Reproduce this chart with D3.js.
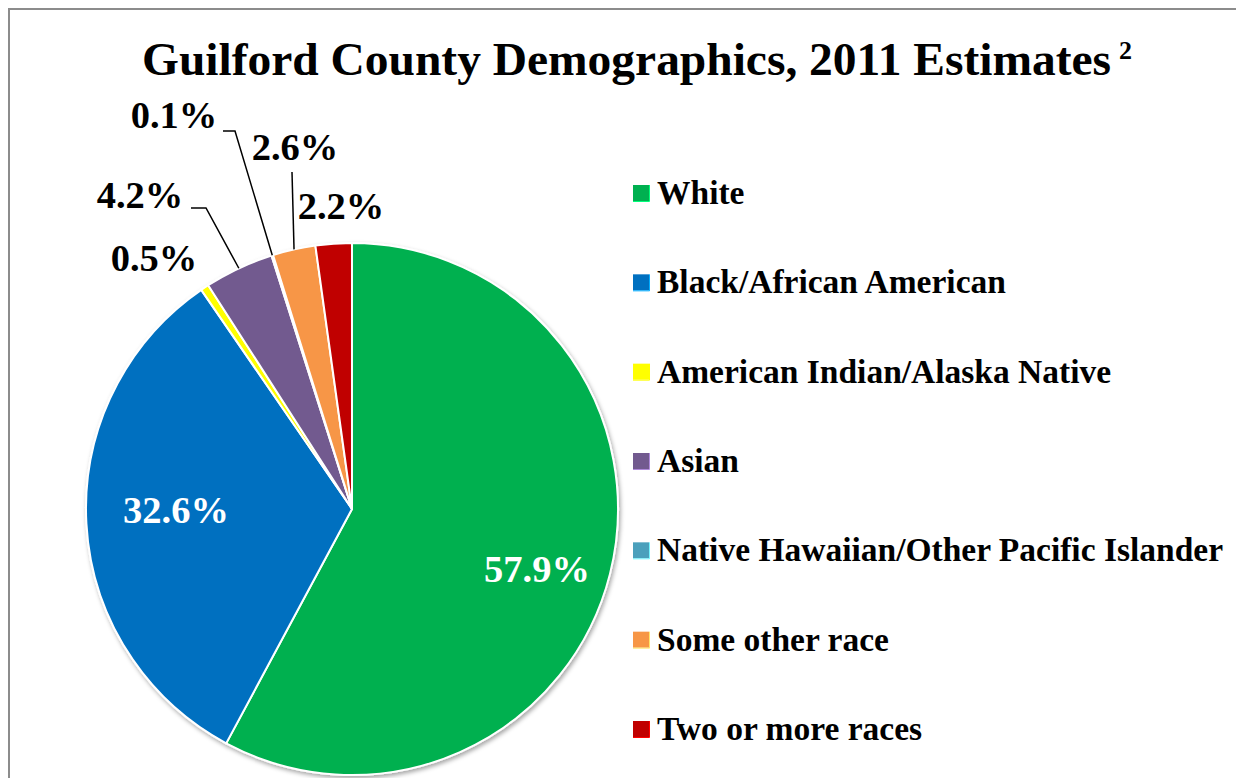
<!DOCTYPE html>
<html>
<head>
<meta charset="utf-8">
<script src="https://cdn.jsdelivr.net/npm/d3@7"></script>
<style>
  html, body { margin: 0; padding: 0; background: #fff; }
  svg { display: block; }
  text { font-family: "Liberation Serif", "Times New Roman", serif; font-weight: bold; }
</style>
</head>
<body>
<svg id="chart" width="1236" height="778"></svg>
<script>
// ---- data ----
const categories = [
  "White",
  "Black/African American",
  "American Indian/Alaska Native",
  "Asian",
  "Native Hawaiian/Other Pacific Islander",
  "Some other race",
  "Two or more races"
];
const values = [57.9, 32.6, 0.5, 4.2, 0.1, 2.6, 2.2];
const valueLabels = ["57.9%", "32.6%", "0.5%", "4.2%", "0.1%", "2.6%", "2.2%"];
const colors = ["#00B050", "#0070C0", "#FFFF00", "#725A8F", "#4BA0BC", "#F79646", "#C00000"];
const titleText = "Guilford County Demographics, 2011 Estimates";
const titleSup = "2";

// ---- layout (not data) ----
const W = 1236, H = 778;
const cx = 352, cy = 509, R = 266;
// label anchor offsets relative to the pie centre (text-anchor middle, baseline)
const labelLayout = [
  {dx: 185, dy: 73, inside: true},
  {dx: -176, dy: 14, inside: true},
  {dx: -198, dy: -238},
  {dx: -212, dy: -301, leader: [[-161, -301], [-146, -301]]},
  {dx: -178, dy: -381, leader: [[-129, -378], [-117, -378]]},
  {dx: -57, dy: -349, leader: [[-60, -337]]},
  {dx: -11, dy: -290}
];

const svg = d3.select("#chart");

// frame
svg.append("path")
  .attr("d", `M9,${H} L9,9 L${W},9`)
  .attr("fill", "none")
  .attr("stroke", "#8c8c8c")
  .attr("stroke-width", 2);

// shadow filter
const defs = svg.append("defs");
const f = defs.append("filter").attr("id", "shadow").attr("x", "-10%").attr("y", "-10%").attr("width", "120%").attr("height", "120%");
f.append("feDropShadow").attr("dx", 1.5).attr("dy", 2.5).attr("stdDeviation", 2.2)
  .attr("flood-color", "#000").attr("flood-opacity", 0.35);

// title
const title = svg.append("text")
  .attr("x", 142).attr("y", 75)
  .attr("font-size", 46)
  .attr("fill", "#000")
  .text(titleText);
title.attr("textLength", 969).attr("lengthAdjust", "spacingAndGlyphs");
svg.append("text")
  .attr("x", 1119).attr("y", 59)
  .attr("font-size", 26)
  .attr("fill", "#000")
  .text(titleSup);

// pie
const pie = d3.pie().sort(null).value(d => d)(values);
const arc = d3.arc().innerRadius(0).outerRadius(R);
const g = svg.append("g").attr("transform", `translate(${cx},${cy})`);

const slices = g.append("g").attr("filter", "url(#shadow)");
slices.selectAll("path")
  .data(pie)
  .join("path")
  .attr("d", arc)
  .attr("fill", (d, i) => colors[i])
  .attr("stroke", "#fff")
  .attr("stroke-width", 2)
  .attr("stroke-linejoin", "round");

// leader lines
const edgeArc = d3.arc().innerRadius(R).outerRadius(R);
pie.forEach((d, i) => {
  const L = labelLayout[i];
  if (!L.leader) return;
  const p = edgeArc.centroid(d);
  const pts = [...L.leader, p];
  g.append("path")
    .attr("d", d3.line()(pts))
    .attr("fill", "none")
    .attr("stroke", "#000")
    .attr("stroke-width", 1.5);
});

// value labels
g.selectAll("text.val")
  .data(pie)
  .join("text")
  .attr("class", "val")
  .attr("x", (d, i) => labelLayout[i].dx)
  .attr("y", (d, i) => labelLayout[i].dy)
  .attr("text-anchor", "middle")
  .attr("font-size", 38.5)
  .attr("fill", (d, i) => labelLayout[i].inside ? "#fff" : "#000")
  .text((d, i) => valueLabels[i]);

// legend
const ly = d3.scalePoint().domain(categories).range([193, 729]);
const leg = svg.append("g");
const items = leg.selectAll("g").data(categories).join("g")
  .attr("transform", d => `translate(633,${ly(d)})`);
items.append("rect")
  .attr("x", 0).attr("y", -8).attr("width", 16).attr("height", 16)
  .attr("fill", (d, i) => colors[i]);
items.append("path")
  .attr("d", "M0,8.5 H16.5 V-8")
  .attr("fill", "none")
  .attr("stroke", (d, i) => d3.color(colors[i]).brighter(1.2))
  .attr("stroke-width", 1);
items.append("text")
  .attr("x", 24).attr("y", 11)
  .attr("font-size", 33.5)
  .attr("fill", "#000")
  .text(d => d);
</script>
</body>
</html>
